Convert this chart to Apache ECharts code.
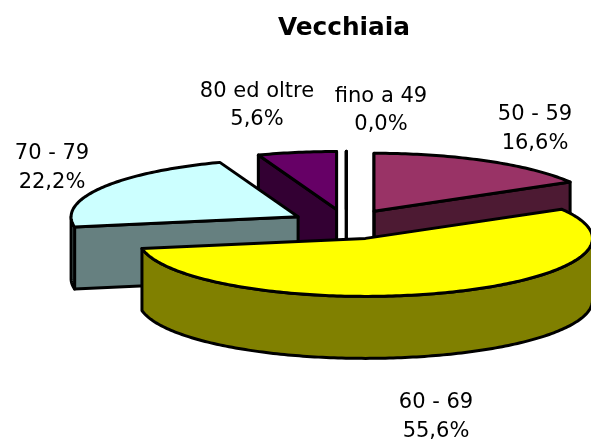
<!DOCTYPE html>
<html><head><meta charset="utf-8">
<style>html,body{margin:0;padding:0;background:#fff}#c{width:591px;height:441px}</style>
<script src="https://cdn.jsdelivr.net/npm/echarts@6/dist/echarts.min.js"></script>
</head><body><div id="c"></div>
<script>
const title = 'Vecchiaia';
const categories = ['fino a 49', '50 - 59', '60 - 69', '70 - 79', '80 ed oltre'];
const values = [0.0, 16.6, 55.6, 22.2, 5.6];
const valueLabels = ['0,0%', '16,6%', '55,6%', '22,2%', '5,6%'];
const topColors = ['#000080', '#993366', '#FFFF00', '#CCFFFF', '#660066'];
const sideColors = ['#000040', '#4D1A33', '#808000', '#668080', '#330033'];
// painter's order, back to front
const drawOrder = [0, 1, 4, 3, 2];
// layout of the 3D pie
const CX = 346.3, CY = 224.3, RX = 227, RY = 58, DEPTH = 62, EXPL_X = 55.6, EXPL_Y = 15;
const labelAnchors = [[381, 110.5], [535, 129], [436, 417], [52, 168], [257, 105.5]];

const total = values.reduce((a, b) => a + b, 0);
let acc = 0;
const spans = values.map(v => { const s = acc; acc += v; return [s / total * 360, acc / total * 360]; });
const rad = d => d * Math.PI / 180;

function arc(ax, ay, a, b, dy) {
  const pts = [], n = Math.max(1, Math.ceil(Math.abs(b - a)));
  for (let i = 0; i <= n; i++) {
    const t = rad(a + (b - a) * i / n);
    pts.push([ax + RX * Math.sin(t), ay - RY * Math.cos(t) + dy]);
  }
  return pts;
}
function poly(points, fill) {
  return { type: 'polygon', shape: { points }, style: { fill, stroke: '#000', lineWidth: 3, lineJoin: 'round' } };
}
function renderItem(params, api) {
  const i = api.value(0);
  const [a, b] = spans[i];
  const m = rad((a + b) / 2);
  const ax = CX + EXPL_X * Math.sin(m), ay = CY - EXPL_Y * Math.cos(m);
  const side = sideColors[i], kids = [];
  const wall = d => {
    const p = arc(ax, ay, d, d, 0)[0];
    kids.push(poly([[ax, ay], p, [p[0], p[1] + DEPTH], [ax, ay + DEPTH]], side));
  };
  if (Math.sin(rad(b)) >= -1e-9) wall(b);
  if (Math.sin(rad(a)) <= 1e-9) wall(a);
  const f0 = Math.max(a, 90), f1 = Math.min(b, 270);
  if (f1 > f0) kids.push(poly(arc(ax, ay, f0, f1, 0).concat(arc(ax, ay, f1, f0, DEPTH)), side));
  kids.push(poly([[ax, ay]].concat(arc(ax, ay, a, b, 0)), topColors[i]));
  return { type: 'group', children: kids };
}
function labelItem(params, api) {
  const i = api.value(0);
  return { type: 'text', x: labelAnchors[i][0], y: labelAnchors[i][1],
    style: { text: categories[i] + '\n' + valueLabels[i], fill: '#000', align: 'center', verticalAlign: 'middle',
      font: '21px "DejaVu Sans"', lineHeight: 28.5 } };
}
const chart = echarts.init(document.getElementById('c'), null, { renderer: 'canvas' });
chart.setOption({
  animation: false,
  backgroundColor: '#fff',
  title: { text: title, left: 339, top: 11, textAlign: 'center',
    textStyle: { fontFamily: 'DejaVu Sans', fontWeight: 'bold', fontSize: 24.8, color: '#000' } },
  tooltip: { show: false },
  series: [
    { type: 'custom', coordinateSystem: 'none', silent: true, renderItem, z: 2,
      data: drawOrder.map(i => [i, values[i]]) },
    { type: 'custom', coordinateSystem: 'none', silent: true, renderItem: labelItem, z: 3,
      data: values.map((v, i) => [i, v]) }
  ]
});
</script></body></html>
